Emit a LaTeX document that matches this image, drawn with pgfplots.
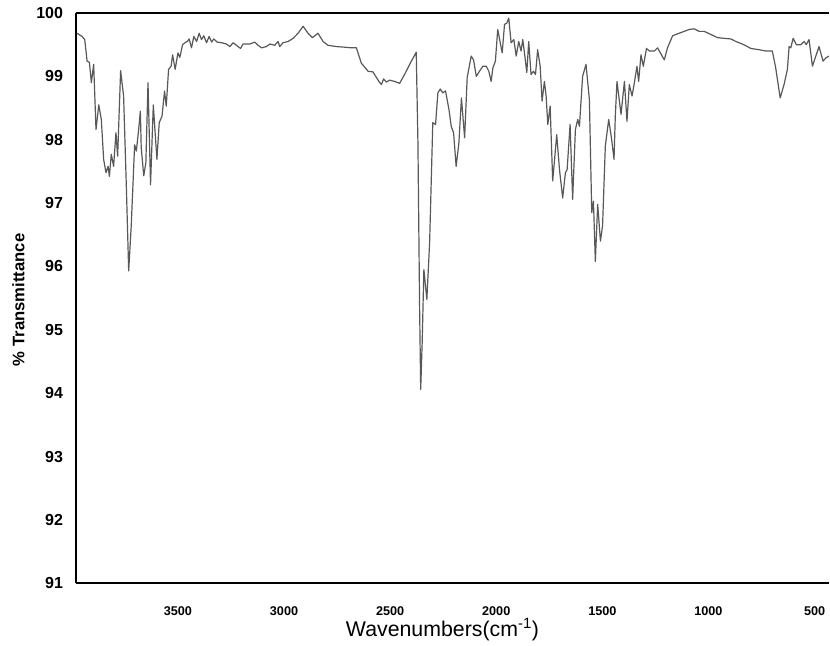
\documentclass[border=0pt]{standalone}
\usepackage{fontspec}
\setmainfont{Liberation Sans}
\usepackage{pgfplots}
\usepackage{pgfplotstable}
\pgfplotsset{compat=1.18}
\definecolor{specgray}{RGB}{88,88,88}

% IR spectrum, wavenumber (cm^-1) vs % transmittance
\pgfplotstableread{
wn T
3975 99.68
3952 99.63
3939 99.58
3928 99.24
3917 99.22
3908 98.90
3897 99.19
3886 98.16
3873 98.55
3861 98.32
3850 97.69
3839 97.48
3829 97.58
3823 97.42
3814 97.77
3803 97.58
3792 98.11
3784 97.74
3770 99.09
3756 98.69
3743 97.26
3732 95.93
3720 96.64
3704 97.92
3696 97.82
3685 98.16
3677 98.45
3673 97.88
3661 97.43
3651 97.64
3641 98.90
3629 97.29
3616 98.55
3599 97.69
3588 98.27
3575 98.37
3563 98.77
3555 98.53
3544 99.11
3532 99.16
3525 99.34
3513 99.11
3500 99.37
3491 99.30
3478 99.50
3467 99.53
3456 99.55
3447 99.59
3436 99.45
3425 99.63
3412 99.55
3400 99.68
3389 99.58
3378 99.64
3365 99.53
3353 99.63
3341 99.54
3331 99.59
3315 99.54
3294 99.53
3271 99.51
3255 99.47
3240 99.53
3224 99.49
3205 99.44
3193 99.51
3161 99.51
3138 99.54
3122 99.49
3106 99.45
3083 99.47
3067 99.51
3044 99.49
3028 99.55
3020 99.47
3005 99.53
2981 99.55
2957 99.60
2934 99.68
2910 99.79
2887 99.68
2866 99.61
2840 99.68
2816 99.55
2793 99.49
2753 99.47
2714 99.46
2683 99.45
2659 99.45
2636 99.21
2604 99.08
2581 99.07
2553 98.92
2541 98.87
2531 98.96
2518 98.91
2502 98.94
2479 98.92
2455 98.89
2432 99.03
2400 99.24
2377 99.38
2369 97.95
2361 95.32
2356 94.06
2349 94.80
2341 95.95
2327 95.48
2314 96.37
2299 98.27
2286 98.24
2275 98.74
2264 98.80
2252 98.74
2239 98.77
2223 98.48
2212 98.21
2201 98.11
2189 97.58
2176 97.95
2164 98.66
2149 98.03
2137 98.98
2118 99.32
2107 99.26
2094 99.00
2079 99.08
2063 99.16
2047 99.16
2035 99.08
2024 98.92
2016 99.13
2004 99.24
1993 99.74
1972 99.37
1961 99.82
1950 99.84
1941 99.92
1930 99.53
1917 99.58
1906 99.32
1894 99.55
1883 99.40
1875 99.58
1867 99.37
1856 99.06
1847 99.55
1836 99.03
1825 99.08
1815 99.03
1805 99.42
1793 99.16
1784 98.61
1773 98.92
1765 98.69
1757 98.24
1746 98.53
1734 97.35
1715 98.08
1702 97.53
1687 97.08
1674 97.48
1666 97.53
1652 98.24
1640 97.06
1627 98.16
1616 98.32
1608 98.21
1593 99.00
1577 99.19
1561 98.63
1550 96.85
1542 97.03
1533 96.08
1522 96.98
1509 96.40
1499 96.64
1486 97.90
1470 98.32
1456 98.00
1445 97.69
1439 98.37
1431 98.92
1412 98.40
1396 98.92
1384 98.29
1373 98.87
1360 98.69
1349 98.90
1337 99.16
1329 98.92
1318 99.34
1307 99.16
1292 99.44
1279 99.40
1255 99.40
1240 99.45
1208 99.26
1193 99.45
1169 99.64
1146 99.67
1114 99.71
1091 99.74
1067 99.75
1044 99.71
1020 99.71
988 99.66
957 99.61
926 99.60
894 99.59
871 99.55
840 99.51
800 99.44
761 99.42
730 99.40
699 99.40
683 99.13
662 98.66
644 98.87
628 99.11
620 99.47
612 99.45
601 99.60
586 99.50
565 99.50
549 99.55
539 99.50
526 99.58
510 99.16
494 99.32
479 99.47
460 99.24
447 99.29
432 99.32
}\spectrum

\begin{document}
\begin{tikzpicture}
\begin{axis}[
    scale only axis,
    width=565.7pt, height=428.3pt,
    x dir=reverse,
    xmin=432, xmax=3982,
    ymin=91, ymax=100,
    axis x line*=bottom, axis y line*=left,
    axis line style={line width=1.5pt, black},
    xtick={500,1000,...,3500},
    ytick={91,92,...,100},
    major tick length=0pt,
    /pgf/number format/assume math mode=true,
    /pgf/number format/set thousands separator={},
    xticklabel style={font=\bfseries\fontsize{9.5}{10}\selectfont, yshift=-14pt},
    yticklabel style={font=\bfseries\fontsize{12}{13}\selectfont, xshift=-6pt},
    xlabel={Wavenumbers(cm\textsuperscript{-1})},
    xlabel style={at={(axis description cs:0.487,-0.081)}, anchor=center,
        font=\fontsize{16}{17}\selectfont},
    ylabel={\% Transmittance},
    ylabel style={at={(axis description cs:-0.076,0.497)}, anchor=center,
        font=\bfseries\fontsize{12.5}{13}\selectfont},
]
\addplot[specgray, line width=0.9pt, line join=round] table[x=wn, y=T] {\spectrum};
\coordinate (bl) at (rel axis cs:0,0);
\coordinate (tr) at (rel axis cs:1,1);
\coordinate (tl) at (rel axis cs:0,1);
\end{axis}
\draw[line width=1.5pt, black] (tl) -- (tr);
\path ([shift={(-56.8pt,-40.5pt)}]bl) ([shift={(0pt,9.75pt)}]tr);
\end{tikzpicture}
\end{document}
